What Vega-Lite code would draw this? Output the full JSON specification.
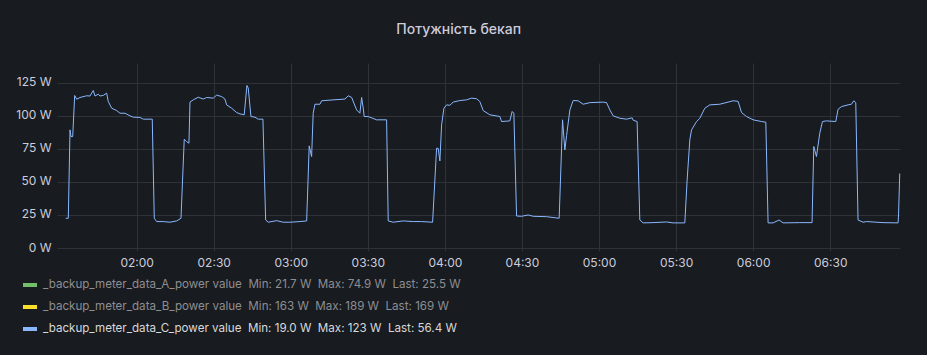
{
  "$schema": "https://vega.github.io/schema/vega-lite/v6.json",
  "width": 843,
  "height": 185,
  "padding": {"left": 57, "top": 63, "right": 27, "bottom": 107},
  "autosize": {"type": "none"},
  "background": "#181b1f",
  "title": {
    "text": "Потужність бекап",
    "frame": "bounds",
    "anchor": "middle",
    "font": "Inter",
    "fontSize": 14,
    "fontWeight": 500,
    "color": "#ccccdc",
    "offset": 26
  },
  "config": {
    "view": {"stroke": null},
    "font": "Inter"
  },
  "data": {
    "format": {"parse": {"t": "date:'%H:%M:%S'"}},
    "values": [
      {"s":"C","t":"01:32:23","v":22.5},
      {"s":"C","t":"01:33:24","v":22.5},
      {"s":"C","t":"01:34:04","v":89.4},
      {"s":"C","t":"01:34:27","v":84.3},
      {"s":"C","t":"01:35:07","v":84.3},
      {"s":"C","t":"01:35:53","v":115.4},
      {"s":"C","t":"01:36:40","v":112.6},
      {"s":"C","t":"01:37:57","v":113.9},
      {"s":"C","t":"01:40:34","v":115.2},
      {"s":"C","t":"01:41:50","v":115.0},
      {"s":"C","t":"01:43:08","v":119.2},
      {"s":"C","t":"01:43:47","v":115.0},
      {"s":"C","t":"01:45:04","v":116.4},
      {"s":"C","t":"01:45:44","v":115.0},
      {"s":"C","t":"01:47:01","v":115.5},
      {"s":"C","t":"01:48:20","v":117.2},
      {"s":"C","t":"01:48:58","v":110.8},
      {"s":"C","t":"01:50:17","v":105.8},
      {"s":"C","t":"01:52:14","v":104.0},
      {"s":"C","t":"01:53:31","v":102.0},
      {"s":"C","t":"01:55:28","v":102.0},
      {"s":"C","t":"01:57:25","v":100.0},
      {"s":"C","t":"01:58:41","v":99.0},
      {"s":"C","t":"02:01:18","v":98.8},
      {"s":"C","t":"02:02:35","v":97.5},
      {"s":"C","t":"02:06:05","v":97.5},
      {"s":"C","t":"02:06:52","v":22.5},
      {"s":"C","t":"02:07:48","v":20.0},
      {"s":"C","t":"02:10:22","v":20.0},
      {"s":"C","t":"02:12:59","v":19.5},
      {"s":"C","t":"02:15:35","v":20.5},
      {"s":"C","t":"02:17:16","v":22.5},
      {"s":"C","t":"02:18:32","v":82.3},
      {"s":"C","t":"02:19:29","v":80.5},
      {"s":"C","t":"02:20:22","v":79.3},
      {"s":"C","t":"02:20:46","v":110.4},
      {"s":"C","t":"02:22:02","v":112.1},
      {"s":"C","t":"02:23:59","v":114.1},
      {"s":"C","t":"02:25:56","v":112.7},
      {"s":"C","t":"02:27:16","v":113.9},
      {"s":"C","t":"02:29:50","v":113.4},
      {"s":"C","t":"02:31:09","v":115.7},
      {"s":"C","t":"02:33:06","v":114.6},
      {"s":"C","t":"02:34:23","v":112.7},
      {"s":"C","t":"02:35:02","v":108.3},
      {"s":"C","t":"02:36:59","v":105.8},
      {"s":"C","t":"02:38:56","v":102.5},
      {"s":"C","t":"02:40:13","v":101.5},
      {"s":"C","t":"02:41:53","v":100.8},
      {"s":"C","t":"02:42:56","v":123.0},
      {"s":"C","t":"02:43:27","v":121.0},
      {"s":"C","t":"02:44:30","v":99.5},
      {"s":"C","t":"02:46:04","v":99.0},
      {"s":"C","t":"02:47:20","v":97.5},
      {"s":"C","t":"02:49:10","v":97.5},
      {"s":"C","t":"02:50:13","v":21.2},
      {"s":"C","t":"02:51:14","v":19.5},
      {"s":"C","t":"02:54:30","v":20.7},
      {"s":"C","t":"02:57:04","v":19.5},
      {"s":"C","t":"02:59:41","v":19.5},
      {"s":"C","t":"03:03:34","v":20.0},
      {"s":"C","t":"03:06:11","v":20.5},
      {"s":"C","t":"03:07:11","v":77.3},
      {"s":"C","t":"03:08:07","v":69.2},
      {"s":"C","t":"03:08:44","v":102.0},
      {"s":"C","t":"03:09:25","v":108.8},
      {"s":"C","t":"03:11:21","v":108.8},
      {"s":"C","t":"03:12:01","v":111.4},
      {"s":"C","t":"03:16:32","v":112.1},
      {"s":"C","t":"03:21:05","v":112.7},
      {"s":"C","t":"03:22:22","v":115.2},
      {"s":"C","t":"03:23:41","v":114.0},
      {"s":"C","t":"03:25:38","v":104.5},
      {"s":"C","t":"03:26:55","v":102.0},
      {"s":"C","t":"03:27:35","v":113.9},
      {"s":"C","t":"03:28:12","v":106.0},
      {"s":"C","t":"03:28:35","v":99.5},
      {"s":"C","t":"03:30:09","v":99.5},
      {"s":"C","t":"03:33:25","v":97.0},
      {"s":"C","t":"03:37:19","v":97.0},
      {"s":"C","t":"03:37:56","v":20.5},
      {"s":"C","t":"03:39:53","v":19.5},
      {"s":"C","t":"03:43:46","v":20.5},
      {"s":"C","t":"03:47:40","v":20.0},
      {"s":"C","t":"03:50:56","v":20.0},
      {"s":"C","t":"03:55:13","v":19.5},
      {"s":"C","t":"03:56:46","v":75.5},
      {"s":"C","t":"03:57:23","v":75.5},
      {"s":"C","t":"03:58:03","v":65.9},
      {"s":"C","t":"03:58:43","v":93.2},
      {"s":"C","t":"03:59:37","v":105.8},
      {"s":"C","t":"04:00:40","v":108.3},
      {"s":"C","t":"04:01:56","v":108.0},
      {"s":"C","t":"04:03:14","v":110.4},
      {"s":"C","t":"04:05:50","v":111.6},
      {"s":"C","t":"04:08:26","v":112.1},
      {"s":"C","t":"04:10:23","v":113.4},
      {"s":"C","t":"04:12:20","v":113.0},
      {"s":"C","t":"04:13:37","v":110.8},
      {"s":"C","t":"04:14:54","v":104.0},
      {"s":"C","t":"04:17:31","v":100.8},
      {"s":"C","t":"04:21:24","v":99.5},
      {"s":"C","t":"04:22:04","v":95.7},
      {"s":"C","t":"04:25:17","v":96.2},
      {"s":"C","t":"04:26:11","v":103.3},
      {"s":"C","t":"04:26:51","v":102.0},
      {"s":"C","t":"04:27:54","v":24.2},
      {"s":"C","t":"04:29:51","v":24.0},
      {"s":"C","t":"04:32:25","v":25.0},
      {"s":"C","t":"04:34:22","v":24.0},
      {"s":"C","t":"04:39:35","v":23.7},
      {"s":"C","t":"04:44:29","v":22.5},
      {"s":"C","t":"04:45:48","v":97.0},
      {"s":"C","t":"04:46:42","v":74.2},
      {"s":"C","t":"04:47:22","v":85.0},
      {"s":"C","t":"04:48:39","v":104.5},
      {"s":"C","t":"04:49:56","v":111.6},
      {"s":"C","t":"04:51:53","v":111.4},
      {"s":"C","t":"04:53:49","v":108.8},
      {"s":"C","t":"04:56:26","v":110.0},
      {"s":"C","t":"05:01:37","v":110.4},
      {"s":"C","t":"05:02:56","v":110.0},
      {"s":"C","t":"05:04:13","v":104.5},
      {"s":"C","t":"05:05:30","v":100.0},
      {"s":"C","t":"05:08:07","v":98.2},
      {"s":"C","t":"05:10:43","v":97.5},
      {"s":"C","t":"05:12:54","v":98.5},
      {"s":"C","t":"05:13:17","v":96.7},
      {"s":"C","t":"05:14:50","v":95.7},
      {"s":"C","t":"05:15:53","v":21.2},
      {"s":"C","t":"05:17:10","v":19.0},
      {"s":"C","t":"05:21:04","v":19.2},
      {"s":"C","t":"05:26:17","v":19.7},
      {"s":"C","t":"05:28:51","v":19.0},
      {"s":"C","t":"05:33:24","v":19.0},
      {"s":"C","t":"05:34:18","v":51.5},
      {"s":"C","t":"05:35:21","v":81.8},
      {"s":"C","t":"05:36:01","v":89.4},
      {"s":"C","t":"05:37:58","v":95.7},
      {"s":"C","t":"05:39:14","v":98.2},
      {"s":"C","t":"05:41:11","v":105.8},
      {"s":"C","t":"05:43:08","v":108.3},
      {"s":"C","t":"05:47:01","v":108.8},
      {"s":"C","t":"05:50:15","v":110.4},
      {"s":"C","t":"05:52:12","v":111.4},
      {"s":"C","t":"05:54:08","v":111.0},
      {"s":"C","t":"05:55:28","v":102.5},
      {"s":"C","t":"05:57:25","v":99.5},
      {"s":"C","t":"05:59:59","v":97.0},
      {"s":"C","t":"06:03:15","v":95.7},
      {"s":"C","t":"06:04:56","v":95.2},
      {"s":"C","t":"06:05:49","v":19.0},
      {"s":"C","t":"06:07:46","v":19.0},
      {"s":"C","t":"06:10:06","v":21.2},
      {"s":"C","t":"06:11:40","v":19.0},
      {"s":"C","t":"06:18:09","v":19.2},
      {"s":"C","t":"06:22:56","v":19.2},
      {"s":"C","t":"06:23:36","v":76.8},
      {"s":"C","t":"06:24:39","v":69.2},
      {"s":"C","t":"06:25:56","v":86.9},
      {"s":"C","t":"06:26:59","v":95.7},
      {"s":"C","t":"06:28:32","v":96.2},
      {"s":"C","t":"06:32:10","v":95.7},
      {"s":"C","t":"06:33:04","v":105.0},
      {"s":"C","t":"06:34:23","v":107.0},
      {"s":"C","t":"06:36:57","v":108.3},
      {"s":"C","t":"06:38:16","v":108.8},
      {"s":"C","t":"06:39:10","v":111.4},
      {"s":"C","t":"06:39:57","v":110.0},
      {"s":"C","t":"06:40:50","v":21.2},
      {"s":"C","t":"06:42:47","v":19.5},
      {"s":"C","t":"06:44:07","v":20.0},
      {"s":"C","t":"06:50:35","v":19.2},
      {"s":"C","t":"06:56:25","v":19.0},
      {"s":"C","t":"06:56:36","v":25.0},
      {"s":"C","t":"06:57:04","v":56.4}
    ]
  },
  "mark": {"type": "line", "strokeWidth": 1, "interpolate": "linear"},
  "encoding": {
    "x": {
      "field": "t",
      "type": "temporal",
      "scale": {
        "domain": [
          {"year": 1900, "month": 1, "date": 1, "hours": 1, "minutes": 29, "seconds": 0},
          {"year": 1900, "month": 1, "date": 1, "hours": 6, "minutes": 57, "seconds": 10}
        ]
      },
      "axis": {
        "title": null,
        "format": "%H:%M",
        "values": [
          {"year": 1900, "month": 1, "date": 1, "hours": 2, "minutes": 0},
          {"year": 1900, "month": 1, "date": 1, "hours": 2, "minutes": 30},
          {"year": 1900, "month": 1, "date": 1, "hours": 3, "minutes": 0},
          {"year": 1900, "month": 1, "date": 1, "hours": 3, "minutes": 30},
          {"year": 1900, "month": 1, "date": 1, "hours": 4, "minutes": 0},
          {"year": 1900, "month": 1, "date": 1, "hours": 4, "minutes": 30},
          {"year": 1900, "month": 1, "date": 1, "hours": 5, "minutes": 0},
          {"year": 1900, "month": 1, "date": 1, "hours": 5, "minutes": 30},
          {"year": 1900, "month": 1, "date": 1, "hours": 6, "minutes": 0},
          {"year": 1900, "month": 1, "date": 1, "hours": 6, "minutes": 30}
        ],
        "domain": false,
        "grid": true,
        "gridColor": "#2f3237",
        "gridWidth": 1,
        "ticks": true,
        "tickSize": 3,
        "tickColor": "#2f3237",
        "labelPadding": 6,
        "labelFont": "Inter",
        "labelFontSize": 12,
        "labelColor": "#ccccdc",
        "labelFlush": false
      }
    },
    "y": {
      "field": "v",
      "type": "quantitative",
      "scale": {"domain": [0, 140], "nice": false},
      "axis": {
        "title": null,
        "values": [0, 25, 50, 75, 100, 125],
        "labelExpr": "datum.value + ' W'",
        "domain": false,
        "ticks": false,
        "grid": true,
        "gridColor": "#2f3237",
        "labelPadding": 6,
        "labelFont": "Inter",
        "labelFontSize": 12,
        "labelColor": "#ccccdc",
        "labelOffset": -1
      }
    },
    "color": {
      "field": "s",
      "type": "nominal",
      "scale": {"domain": ["A", "B", "C"], "range": ["#73bf69", "#fade2a", "#8ab8ff"]},
      "legend": {
        "orient": "none",
        "legendX": -36,
        "legendY": 213,
        "direction": "vertical",
        "title": null,
        "symbolType": "stroke",
        "symbolSize": 196,
        "symbolStrokeWidth": 4,
        "labelFont": "Inter",
        "labelFontSize": 11.6,
        "labelLimit": 0,
        "labelOffset": 4,
        "rowPadding": 5,
        "padding": 0,
        "labelExpr": "datum.value === 'A' ? '_backup_meter_data_A_power value\u00a0\u00a0Min: 21.7 W\u00a0\u00a0Max: 74.9 W\u00a0\u00a0Last: 25.5 W' : datum.value === 'B' ? '_backup_meter_data_B_power value\u00a0\u00a0Min: 163 W\u00a0\u00a0Max: 189 W\u00a0\u00a0Last: 169 W' : '_backup_meter_data_C_power value\u00a0\u00a0Min: 19.0 W\u00a0\u00a0Max: 123 W\u00a0\u00a0Last: 56.4 W'",
        "encode": {
          "labels": {
            "update": {
              "fill": {"signal": "datum.value === 'C' ? '#d8d9da' : '#8e8e93'"}
            }
          }
        }
      }
    }
  }
}
